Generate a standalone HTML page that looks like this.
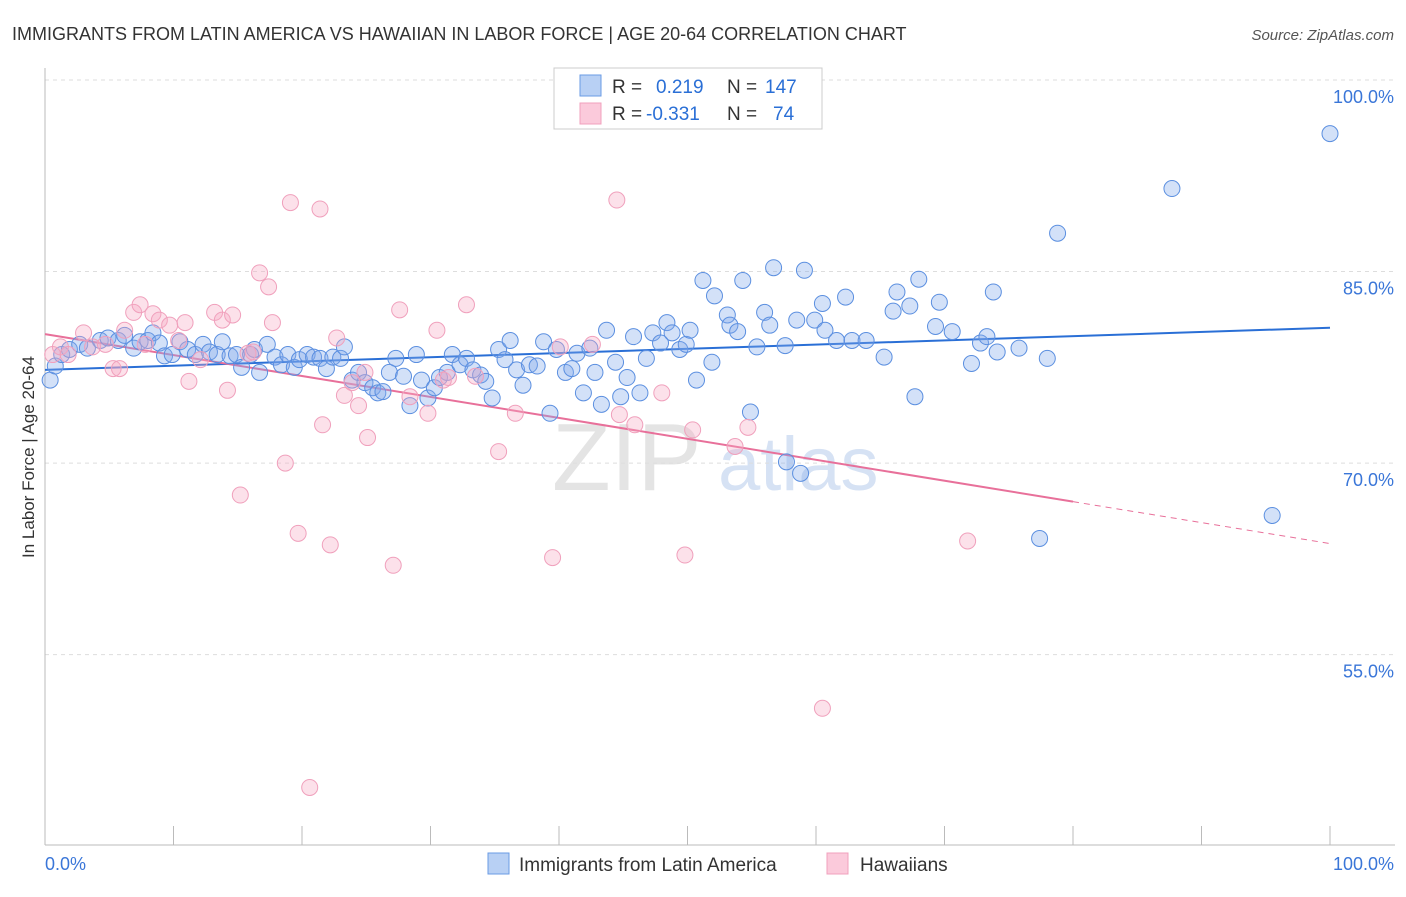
<!DOCTYPE html>
<html><head><meta charset="utf-8">
<style>
body{margin:0;background:#fff;font-family:"Liberation Sans",sans-serif;}
svg text{font-family:"Liberation Sans",sans-serif;}
</style></head>
<body>
<svg id="chart" width="1406" height="892" xmlns="http://www.w3.org/2000/svg">
<text x="12" y="40" font-size="18" fill="#333">IMMIGRANTS FROM LATIN AMERICA VS HAWAIIAN IN LABOR FORCE | AGE 20-64 CORRELATION CHART</text>
<text x="1394" y="40" font-size="15" fill="#555" font-style="italic" text-anchor="end">Source: ZipAtlas.com</text>
<text transform="translate(34,457) rotate(-90)" font-size="17" fill="#333" text-anchor="middle">In Labor Force | Age 20-64</text>
<g><text x="552" y="490" font-size="96" fill="#e4e4e4" font-family="Liberation Serif">ZIP</text><text x="718" y="490" font-size="76" fill="#d6e2f4">atlas</text></g>
<g id="grid"></g><g id="axes"></g><g id="trends"></g><g id="pts"></g>
<g>
<rect x="554" y="68" width="268" height="61" fill="#fff" stroke="#ccc"/>
<rect x="580" y="75" width="21" height="21" fill="#b8d0f4" stroke="#6a9be4"/>
<text x="612" y="93" font-size="19" fill="#333">R =</text><text x="656" y="93" font-size="19" fill="#2a6fd6">0.219</text>
<text x="727" y="93" font-size="19" fill="#333">N =</text><text x="765" y="93" font-size="19" fill="#2a6fd6">147</text>
<rect x="580" y="103" width="21" height="21" fill="#fbcadb" stroke="#f0a0bc"/>
<text x="612" y="120" font-size="19" fill="#333">R =</text><text x="646" y="120" font-size="19" fill="#2a6fd6">-0.331</text>
<text x="727" y="120" font-size="19" fill="#333">N =</text><text x="773" y="120" font-size="19" fill="#2a6fd6">74</text>
</g>
<g>
<rect x="488" y="853" width="21" height="21" fill="#b8d0f4" stroke="#6a9be4"/>
<text x="519" y="871" font-size="19" fill="#333">Immigrants from Latin America</text>
<rect x="827" y="853" width="21" height="21" fill="#fbcadb" stroke="#f0a0bc"/>
<text x="860" y="871" font-size="19" fill="#333">Hawaiians</text>
</g>
</svg>
<script>
const yTicks=[100,85,70,55];
const yTickLabels=["100.0%","85.0%","70.0%","55.0%"];
const xTickLabels=["0.0%","100.0%"];
const blueX=[0.4,0.8,1.3,1.9,2.7,3.3,4.3,4.9,5.7,6.2,6.9,7.4,8.0,8.4,8.9,9.3,9.9,10.5,11.1,11.7,12.3,12.8,13.4,13.8,14.4,14.9,15.3,16.0,16.3,16.7,17.3,17.9,18.4,18.9,19.4,19.8,20.4,20.9,21.4,21.9,22.4,23.0,23.3,23.9,24.4,24.9,25.5,25.9,26.3,26.8,27.3,27.9,28.4,28.9,29.3,29.8,30.3,30.7,31.3,31.7,32.3,32.8,33.3,33.9,34.3,34.8,35.3,35.8,36.2,36.7,37.2,37.7,38.3,38.8,39.3,39.8,40.5,41.0,41.4,41.9,42.4,42.8,43.3,43.7,44.4,44.8,45.3,45.8,46.3,46.8,47.3,47.9,48.4,48.8,49.4,49.9,50.2,50.7,51.2,51.9,52.1,53.1,53.3,53.9,54.3,54.9,55.4,56.0,56.4,56.7,57.6,57.7,58.5,58.8,59.1,59.9,60.5,60.7,61.6,62.3,62.8,63.9,65.3,66.0,66.3,67.3,67.7,68.0,69.3,69.6,70.6,72.1,72.8,73.3,74.1,73.8,75.8,77.4,78.0,78.8,87.7,95.5,100];
const blueY=[76.5,77.6,78.5,78.9,79.3,79.0,79.6,79.8,79.6,80.0,79.0,79.5,79.6,80.2,79.4,78.4,78.5,79.5,78.9,78.5,79.3,78.7,78.5,79.5,78.4,78.5,77.5,78.5,78.9,77.1,79.3,78.3,77.7,78.5,77.5,78.1,78.5,78.3,78.2,77.4,78.3,78.2,79.1,76.5,77.1,76.3,75.9,75.5,75.6,77.1,78.2,76.8,74.5,78.5,76.5,75.1,75.9,76.7,77.1,78.5,77.7,78.2,77.3,76.9,76.4,75.1,78.9,78.1,79.6,77.3,76.1,77.7,77.6,79.5,73.9,78.9,77.1,77.4,78.6,75.5,79.0,77.1,74.6,80.4,77.9,75.2,76.7,79.9,75.5,78.2,80.2,79.4,81.0,80.2,78.9,79.3,80.4,76.5,84.3,77.9,83.1,81.6,80.8,80.3,84.3,74.0,79.1,81.8,80.8,85.3,79.2,70.1,81.2,69.2,85.1,81.2,82.5,80.4,79.6,83.0,79.6,79.6,78.3,81.9,83.4,82.3,75.2,84.4,80.7,82.6,80.3,77.8,79.4,79.9,78.7,83.4,79.0,64.1,78.2,88.0,91.5,65.9,95.8];
const pinkX=[0.6,1.2,1.8,3.0,3.7,4.7,5.3,5.8,6.2,6.9,7.4,7.8,8.4,8.9,9.7,10.4,10.9,11.2,12.1,13.2,13.8,14.2,14.6,15.2,15.8,16.2,16.7,17.4,17.7,18.7,19.1,19.7,20.6,21.4,21.6,22.2,22.7,23.3,23.9,24.4,24.9,25.1,27.1,27.6,28.4,29.8,30.5,31.0,31.4,32.8,33.5,35.3,36.6,39.5,40.1,42.6,44.5,44.7,45.9,48.0,49.8,50.4,53.7,54.7,60.5,71.8];
const pinkY=[78.5,79.1,78.5,80.2,79.1,79.3,77.4,77.4,80.4,81.8,82.4,79.3,81.7,81.2,80.8,79.6,81.0,76.4,78.1,81.8,81.2,75.7,81.6,67.5,78.6,78.7,84.9,83.8,81.0,70.0,90.4,64.5,44.6,89.9,73.0,63.6,79.8,75.3,76.3,74.5,77.1,72.0,62.0,82.0,75.2,73.9,80.4,76.5,76.7,82.4,76.8,70.9,73.9,62.6,79.1,79.3,90.6,73.8,73.0,75.5,62.8,72.6,71.3,72.8,50.8,63.9];
const blueTrend=[77.3,80.6];
const pinkTrend=[80.1,63.7];
const pinkSolidEnd=80;

const X=v=>45+v*12.85, Y=v=>80+(100-v)*12.77;
const NS="http://www.w3.org/2000/svg";
function mk(tag,attrs,parent){const e=document.createElementNS(NS,tag);for(const k in attrs)e.setAttribute(k,attrs[k]);document.getElementById(parent).appendChild(e);return e;}
yTicks.forEach((t,i)=>{
 const g=mk('line',{x1:45,x2:1395,y1:Y(t),y2:Y(t),stroke:'#ddd','stroke-dasharray':'4,4'},'grid');
 
 
 const tx=mk('text',{x:1394,y:Y(t)+23,'font-size':18,fill:'#3a76d8','text-anchor':'end'},'grid');
 tx.textContent=yTickLabels[i];
 
 
});
const ax=mk('line',{x1:45,x2:45,y1:68,y2:845,stroke:'#bbb'},'axes');


const bx=mk('line',{x1:45,x2:1395,y1:845,y2:845,stroke:'#bbb'},'axes');


for(let i=0;i<=10;i++){const t=mk('line',{x1:X(i*10),x2:X(i*10),y1:826,y2:845,stroke:'#bbb'},'axes');
 
 }
[[0,'start',45],[100,'end',1394]].forEach((d,i)=>{const t=mk('text',{x:d[2],y:870,'font-size':18,fill:'#3a76d8','text-anchor':d[1]},'axes');t.textContent=xTickLabels[i];
 
 });
blueX.forEach((v,i)=>{const c=mk('circle',{cx:X(v),cy:Y(blueY[i]),r:8,fill:'rgba(130,170,235,0.35)',stroke:'#5b8fe0','stroke-width':1},'pts');
 
 });
pinkX.forEach((v,i)=>{const c=mk('circle',{cx:X(v),cy:Y(pinkY[i]),r:8,fill:'rgba(245,170,195,0.35)',stroke:'#f0a0bc','stroke-width':1},'pts');
 
 });
const bt=mk('line',{x1:X(0),y1:Y(blueTrend[0]),x2:X(100),y2:Y(blueTrend[1]),stroke:'#2a6fd6','stroke-width':2},'trends');


const pAt=x=>pinkTrend[0]+(pinkTrend[1]-pinkTrend[0])*x/100;
const pt=mk('line',{x1:X(0),y1:Y(pAt(0)),x2:X(pinkSolidEnd),y2:Y(pAt(pinkSolidEnd)),stroke:'#e8709a','stroke-width':2},'trends');


const pd=mk('line',{x1:X(pinkSolidEnd),y1:Y(pAt(pinkSolidEnd)),x2:X(100),y2:Y(pAt(100)),stroke:'#e8709a','stroke-width':1,'stroke-dasharray':'6,5'},'trends');


</script>
</body></html>
